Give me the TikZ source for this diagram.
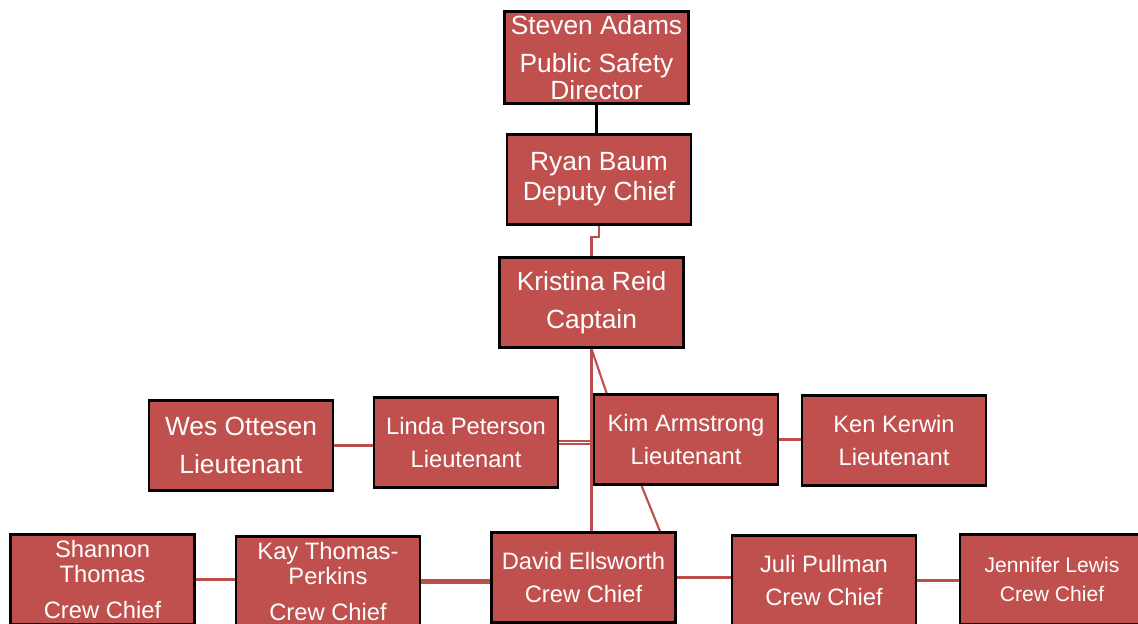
\documentclass[tikz,border=0pt]{standalone}
\usepackage{fontspec}
\setmainfont{Liberation Sans}
\usepackage{tikz}
\usetikzlibrary{calc,backgrounds}
\definecolor{boxred}{HTML}{C0504D}
\definecolor{linkred}{HTML}{BC4F4C}
\tikzset{
  rolebox/.style={draw=black, line width=1.6pt, fill=boxred, text=white, align=center, minimum width=3.68cm, minimum height=1.80cm, inner sep=2pt},
  bigtxt/.style={font=\fontsize{15}{17}\selectfont},
  midtxt/.style={font=\fontsize{13.5}{16}\selectfont},
  smalltxt/.style={font=\fontsize{12}{14}\selectfont},
  link/.style={draw=linkred, line width=1.2pt},
  dlink/.style={draw=linkred, line width=0.9pt, double=white, double distance=1.1pt},
  boss/.style={draw=black, line width=1.2pt}
}
\begin{document}
\begin{tikzpicture}[x=0.02cm, y=-0.02cm]
  \clip (0,0) rectangle (1138,624);

  % command staff
  \node[rolebox, bigtxt] (steven) at (596.5,57.5) {Steven Adams\\[4.6pt]Public Safety\\[-1.6pt]Director};
  \node[rolebox, bigtxt] (ryan) at (599,179.5) {Ryan Baum\\Deputy Chief};
  \node[rolebox, bigtxt] (kristina) at (591.5,302.5) {Kristina Reid\\[4.6pt]Captain};

  % lieutenants
  \node[rolebox, bigtxt] (wes) at (241,445.5) {Wes Ottesen\\[4.6pt]Lieutenant};
  \node[rolebox, midtxt] (linda) at (466,442.5) {Linda Peterson\\[2.8pt]Lieutenant};
  \node[rolebox, midtxt] (kim) at (686,439.5) {Kim Armstrong\\[2.8pt]Lieutenant};
  \node[rolebox, midtxt] (ken) at (894,440.5) {Ken Kerwin\\[2.8pt]Lieutenant};

  % crew chiefs
  \node[rolebox, midtxt] (shannon) at (102.5,579.5) {Shannon\\[-1.8pt]Thomas\\[4pt]Crew Chief};
  \node[rolebox, midtxt] (kay) at (328,581.5) {Kay Thomas-\\[-1.8pt]Perkins\\[4pt]Crew Chief};
  \node[rolebox, midtxt] (david) at (583.5,577.5) {David Ellsworth\\[3.3pt]Crew Chief};
  \node[rolebox, midtxt] (juli) at (824,580.5) {Juli Pullman\\[3.3pt]Crew Chief};
  \node[rolebox, smalltxt] (jennifer) at (1052,579.5) {Jennifer Lewis\\[3pt]Crew Chief};

  \begin{scope}[on background layer]
    \draw[boss] (steven.south) -- (steven.south |- ryan.north);
    \draw[link] (ryan.south) -- ++(0,11) -| (kristina.north);
    \draw[link] (kristina.south) -- ($(kim.north west)+(14,0)$);
    \draw[link] ($(kim.south west)+(49,0)$) -- ($(david.north east)+(-17,0)$);
    \draw[link] (wes.east) -- (wes.east -| linda.west);
    \draw[dlink] (linda.east) -- (linda.east -| kim.west);
    \draw[link] (kristina.south) -- (kristina.south |- david.north);
    \draw[link] (kim.east) -- (kim.east -| ken.west);
    \draw[link] (shannon.east) -- (shannon.east -| kay.west);
    \draw[link, line width=2.3pt] (kay.east) -- (kay.east -| david.west);
    \draw[link] (david.east) -- (david.east -| juli.west);
    \draw[link] (juli.east) -- (juli.east -| jennifer.west);
  \end{scope}
\end{tikzpicture}
\end{document}
